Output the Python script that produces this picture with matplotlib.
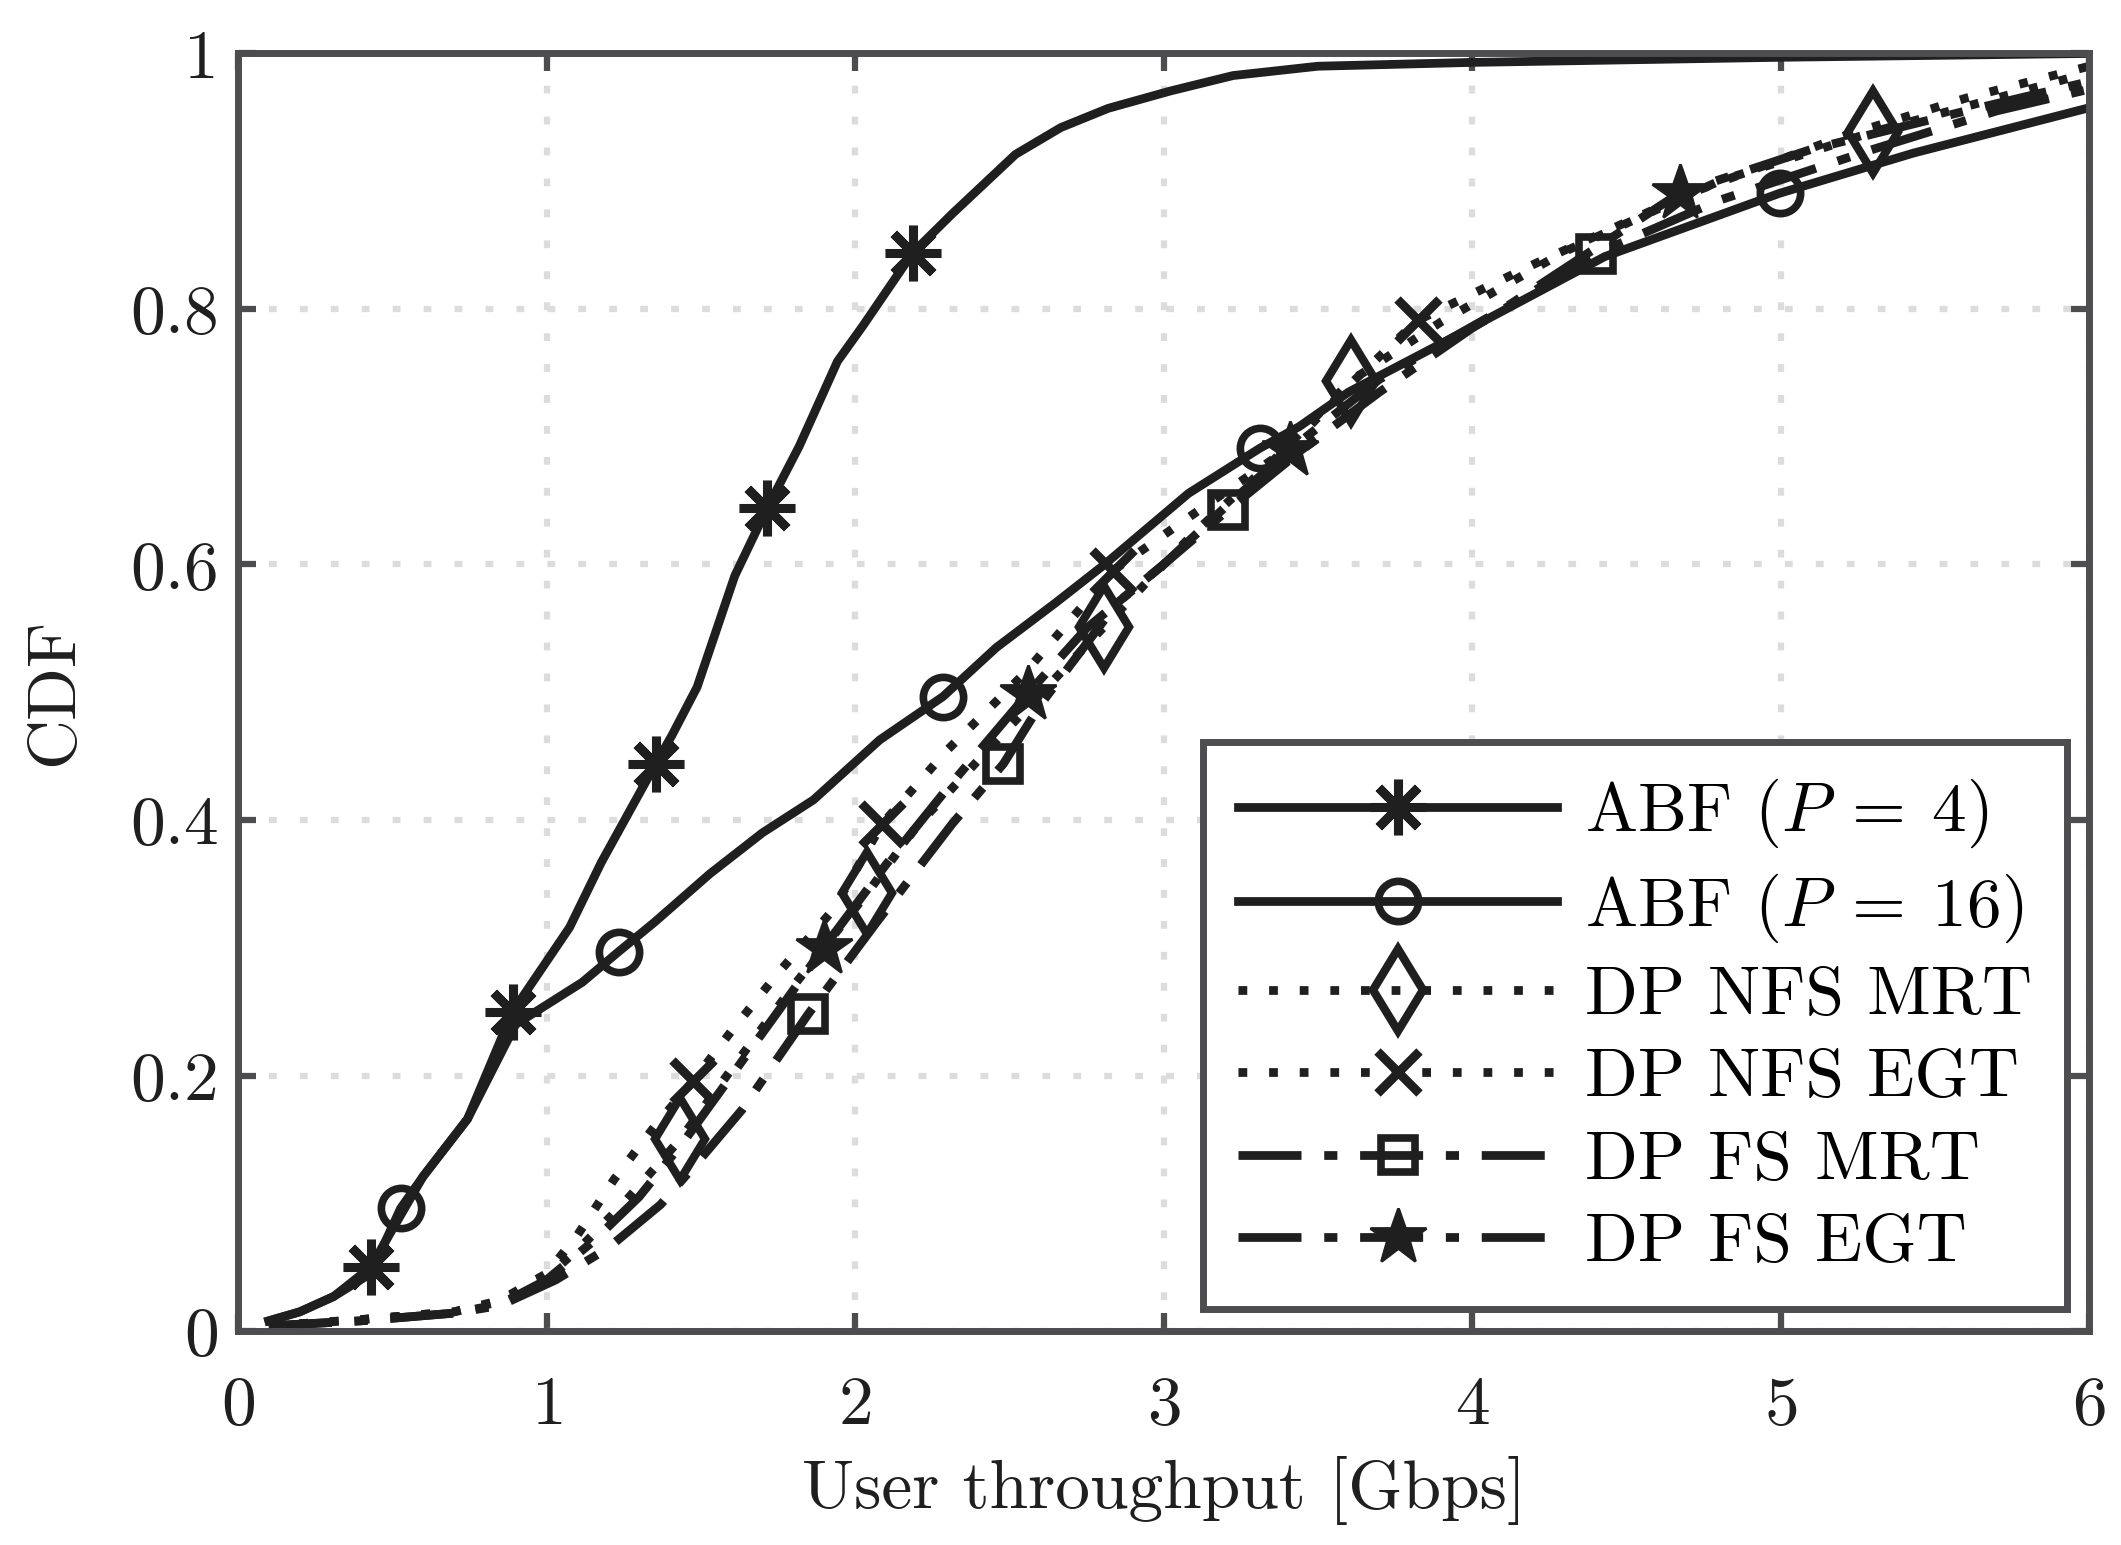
import numpy as np
import matplotlib.pyplot as plt

plt.rcParams["font.family"] = "serif"
plt.rcParams["font.serif"] = ["cmr10", "DejaVu Serif"]
plt.rcParams["mathtext.fontset"] = "cm"
plt.rcParams["axes.formatter.use_mathtext"] = True

# ---- data (x in Gbps, y = CDF) ----
abf4_x = [0.1, 0.2, 0.31, 0.43, 0.6, 0.744, 0.89, 1.075, 1.178, 1.354, 1.406, 1.488, 1.61, 1.715,
          1.819, 1.943, 2.026, 2.187, 2.315, 2.52, 2.667, 2.82, 3.02, 3.225, 3.5, 4.0, 5.0, 6.0]
abf4_y = [0.008, 0.015, 0.027, 0.05, 0.121, 0.166, 0.25, 0.316, 0.367, 0.444, 0.466, 0.504, 0.591, 0.644,
          0.6925, 0.759, 0.787, 0.844, 0.8745, 0.921, 0.942, 0.957, 0.9705, 0.9827, 0.99, 0.993, 0.997, 1.0]
abf4_mk = [3, 6, 9, 13, 17]

abf16_x = [0.1, 0.2, 0.31, 0.43, 0.527, 0.6, 0.744, 0.9, 1.116, 1.234, 1.35, 1.53, 1.7, 1.865, 2.08,
           2.285, 2.458, 2.65, 2.806, 3.081, 3.312, 3.44, 3.6, 3.94, 4.43, 4.997, 5.43, 6.0]
abf16_y = [0.008, 0.015, 0.027, 0.045, 0.096, 0.121, 0.166, 0.24, 0.273, 0.297, 0.32, 0.358, 0.39, 0.4157, 0.4627,
           0.4966, 0.535, 0.57, 0.5995, 0.6557, 0.691, 0.708, 0.735, 0.778, 0.841, 0.8906, 0.922, 0.9575]
abf16_mk = [4, 9, 15, 20, 25]

nfs_mrt_x = [0.1, 0.4, 0.7, 0.85, 1.0, 1.12, 1.25, 1.433, 1.6, 1.8, 2.04, 2.2, 2.45, 2.806,
             3.1, 3.35, 3.608, 3.9, 4.3, 4.8, 5.3, 5.7, 6.0]
nfs_mrt_y = [0.004, 0.009, 0.015, 0.023, 0.042, 0.068, 0.1, 0.15, 0.205, 0.27, 0.343, 0.395, 0.46, 0.551,
             0.625, 0.68, 0.744, 0.79, 0.845, 0.9, 0.9386, 0.965, 0.985]
nfs_mrt_mk = [7, 10, 13, 16, 20]

nfs_egt_x = [0.1, 0.4, 0.7, 0.85, 1.0, 1.1, 1.22, 1.35, 1.476, 1.6, 1.75, 1.93, 2.088, 2.3, 2.55,
             2.835, 3.1, 3.4, 3.6, 3.823, 4.2, 4.7, 5.2, 5.6, 6.0]
nfs_egt_y = [0.004, 0.009, 0.015, 0.024, 0.045, 0.075, 0.119, 0.16, 0.196, 0.235, 0.28, 0.33, 0.397, 0.455, 0.515,
             0.595, 0.64, 0.69, 0.74, 0.791, 0.835, 0.89, 0.935, 0.965, 0.99]
nfs_egt_mk = [8, 12, 15, 19]

fs_mrt_x = [0.1, 0.4, 0.7, 0.85, 1.03, 1.2, 1.37, 1.5, 1.633, 1.848, 2.067, 2.315, 2.481, 2.6,
            2.85, 3.0, 3.21, 3.45, 3.7, 4.0, 4.4, 4.8, 5.3, 5.7, 6.0]
fs_mrt_y = [0.004, 0.008, 0.014, 0.02, 0.04, 0.065, 0.099, 0.135, 0.173, 0.248, 0.319, 0.397, 0.444, 0.49,
            0.57, 0.6, 0.643, 0.69, 0.735, 0.785, 0.843, 0.885, 0.925, 0.955, 0.972]
fs_mrt_mk = [9, 12, 16, 20]

fs_egt_x = [0.1, 0.4, 0.7, 0.85, 1.0, 1.15, 1.3, 1.45, 1.6, 1.75, 1.898, 2.1, 2.3, 2.56,
            2.75, 3.0, 3.2, 3.41, 3.7, 4.1, 4.674, 5.1, 5.6, 6.0]
fs_egt_y = [0.004, 0.008, 0.014, 0.021, 0.04, 0.07, 0.105, 0.15, 0.2, 0.25, 0.3, 0.365, 0.425, 0.499,
            0.55, 0.6, 0.645, 0.69, 0.745, 0.8, 0.891, 0.925, 0.955, 0.978]
fs_egt_mk = [10, 13, 17, 20]

x_ticks = [0, 1, 2, 3, 4, 5, 6]
y_ticks = [0, 0.2, 0.4, 0.6, 0.8, 1]
y_tick_labels = ["0", "0.2", "0.4", "0.6", "0.8", "1"]

ink = "#1f1f1f"
frame = "#4d4d4f"
lw = 6.3
dotted = (1.0, 2.5)
dashdot = (7.2, 2.6, 1.5, 2.6)

fig = plt.figure(figsize=(21.21, 15.45), dpi=100)
ax = fig.add_axes([0.1122, 0.1385, 0.8728, 0.8269])

ax.plot(abf4_x, abf4_y, '-', color=ink, lw=lw, marker=(8, 2, 0), ms=40, mew=6.5,
        markevery=abf4_mk, label=r'ABF $(P\:=\:4)$')
ax.plot(abf16_x, abf16_y, '-', color=ink, lw=lw, marker='o', ms=29, mew=5.5, mfc='none',
        markevery=abf16_mk, label=r'ABF $(P\:=\:16)$')
ax.plot(nfs_mrt_x, nfs_mrt_y, color=ink, lw=lw, dashes=dotted, marker='d', ms=42, mew=6, mfc='none',
        markevery=nfs_mrt_mk, label='DP NFS MRT')
ax.plot(nfs_egt_x, nfs_egt_y, color=ink, lw=lw, dashes=dotted, marker='x', ms=30, mew=6.5,
        markevery=nfs_egt_mk, label='DP NFS EGT')
ax.plot(fs_mrt_x, fs_mrt_y, color=ink, lw=lw, dashes=dashdot, marker='s', ms=25, mew=5.5, mfc='none',
        markevery=fs_mrt_mk, label='DP FS MRT')
ax.plot(fs_egt_x, fs_egt_y, color=ink, lw=lw, dashes=dashdot, marker='*', ms=42, mew=2,
        markevery=fs_egt_mk, label='DP FS EGT')

ax.set_xlim(0, 6)
ax.set_ylim(0, 1)
ax.set_xticks(x_ticks)
ax.set_yticks(y_ticks)
ax.set_yticklabels(y_tick_labels)
ax.grid(True, color='#dcdcdc', lw=4.5, linestyle=(0, (1.25, 3.7)))
ax.set_axisbelow(True)
for s in ax.spines.values():
    s.set_linewidth(5)
    s.set_color(frame)
ax.tick_params(direction='in', length=13, width=4.5, color=frame, labelsize=50,
               top=True, right=True, labelcolor=ink)
ax.tick_params(axis='x', pad=32)
ax.tick_params(axis='y', pad=14)

ax.set_xlabel('User throughput [Gbps]', fontsize=50, color=ink, labelpad=14)
ax.set_ylabel('CDF', fontsize=50, color=ink, labelpad=32)

leg = ax.legend(loc='lower right', bbox_to_anchor=(0.988, 0.0172), fontsize=50, frameon=True,
                fancybox=False, framealpha=1, edgecolor=frame, handlelength=4.6, handletextpad=0.4,
                labelspacing=0.3, borderpad=0.5, borderaxespad=0)
leg.get_frame().set_linewidth(5)

fig.savefig('out.png', dpi=100)
